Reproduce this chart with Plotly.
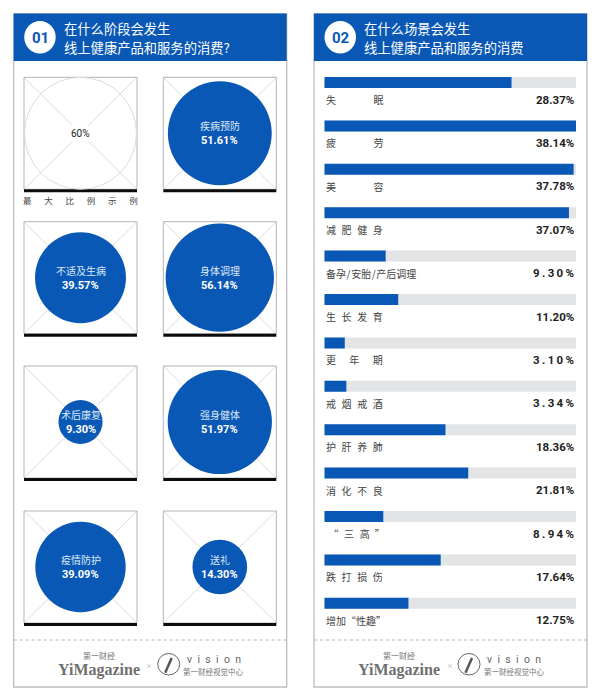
import plotly.graph_objects as go

# left panel: share of spending by stage
stages = ["疾病预防", "不适及生病", "身体调理", "术后康复", "强身健体", "疫情防护", "送礼"]
stage_vals = [51.61, 39.57, 56.14, 9.30, 51.97, 39.09, 14.30]
max_val = 60
# grid slot of every circle: column, row
stage_col = [1, 0, 1, 0, 1, 0, 1]
stage_row = [0, 1, 1, 2, 2, 3, 3]

# right panel: share of spending by scene
scenes = ["失眠", "疲劳", "美容", "减肥健身", "备孕/安胎/产后调理", "生长发育", "更年期",
          "戒烟戒酒", "护肝养肺", "消化不良", "“三高”", "跌打损伤", "增加“性趣”"]
scene_vals = [28.37, 38.14, 37.78, 37.07, 9.30, 11.20, 3.10, 3.34, 18.36, 21.81, 8.94, 17.64, 12.75]

# spaced out the way the designer justified them
GAP = "\u2002\u200a"
WIDE = "\u3000\u3000\u3000\u2002\u2005"
scene_labels = ["失" + WIDE + "眠", "疲" + WIDE + "劳", "美" + WIDE + "容",
                GAP.join("减肥健身"), "备孕\u200a/\u200a安胎\u200a/\u200a产后调理",
                GAP.join("生长发育"), "\u3000\u2004".join("更年期"),
                GAP.join("戒烟戒酒"), GAP.join("护肝养肺"), GAP.join("消化不良"),
                "\u2005“" + GAP + "三" + GAP + "高\u2002”",
                GAP.join("跌打损伤"), "增加“性趣”"]

BLUE = "#0a58b5"
GREY = "#e3e4e6"
BOX_W = 113
BOX_H = 112
FONT = "Noto Sans CJK SC"
col_x = [24, 163.3]
row_y = [77.3, 221.7, 366, 511]

fig = go.Figure()
shapes = []
notes = []


def rect(x0, y0, x1, y1, fill=None, line=None, width=1):
    shapes.append(dict(type="rect", x0=x0, y0=y0, x1=x1, y1=y1, xref="x", yref="y", layer="below",
                       fillcolor=fill or "rgba(0,0,0,0)",
                       line=dict(color=line or "rgba(0,0,0,0)", width=width if line else 0)))


def seg(x0, y0, x1, y1, color, width=1, dash=None):
    shapes.append(dict(type="line", x0=x0, y0=y0, x1=x1, y1=y1, xref="x", yref="y", layer="below",
                       line=dict(color=color, width=width, dash=dash)))


def note(x, y, text, size, color="#333333", anchor="center", family=FONT):
    notes.append(dict(x=x, y=y, xref="x", yref="y", text=text, showarrow=False, xanchor=anchor,
                      yanchor="middle", font=dict(size=size, color=color, family=family)))


# panel frames, headers, footers
for px0, title1, title2, num in [(13.7, "在什么阶段会发生", "线上健康产品和服务的消费?", "01"),
                                 (314, "在什么场景会发生", "线上健康产品和服务的消费", "02")]:
    px1 = px0 + 273
    rect(px0, 14, px1, 687, fill="white", line="#bdbec2", width=1.3)
    rect(px0, 13.5, px1, 61, fill=BLUE)
    shapes.append(dict(type="circle", x0=px0 + 10.5, y0=21, x1=px0 + 42, y1=53.5, xref="x", yref="y",
                       fillcolor="white", line=dict(width=0)))
    note(px0 + 26.5, 37.5, "<b>" + num + "</b>", 15, BLUE, family="Roboto")
    note(px0 + 48, 28.5, title1, 13.3, "white", "left")
    note(px0 + 48, 47, title2, 13.3, "white", "left")
    seg(px0, 640, px1, 640, "#b4b5b8", 1, "dot")
    note(px0 + 85, 655, "第一财经", 8, "#777777")
    note(px0 + 85, 670, "<b>YiMagazine</b>", 16, "#6f6f6f", family="Liberation Serif")
    note(px0 + 135.5, 665, "×", 6, "#999999")
    shapes.append(dict(type="circle", x0=px0 + 144, y0=653.5, x1=px0 + 166, y1=675, xref="x", yref="y",
                       line=dict(color="#666666", width=1)))
    seg(px0 + 158, 658, px0 + 151.5, 672.7, "#555555", 2.5)
    note(px0 + 200, 659.5, "v\u2002i\u2002s\u2002i\u2002o\u2002n", 10.5, "#666666", family="Roboto")
    note(px0 + 200, 671.5, "第一财经视觉中心", 7.5, "#777777")

# crossed boxes of the left panel
for c in col_x:
    for r in row_y:
        seg(c, r, c + BOX_W, r + BOX_H, "#dcdcde")
        seg(c, r + BOX_H, c + BOX_W, r, "#dcdcde")
        rect(c, r, c + BOX_W, r + BOX_H, line="#b4b5b8", width=1)
        rect(c, r + BOX_H, c + BOX_W, r + BOX_H + 3, fill="#0c0c0c")

sizeref = 2 * max_val / BOX_H ** 2

# reference circle for the maximum
fig.add_trace(go.Scatter(
    x=[col_x[0] + BOX_W / 2], y=[row_y[0] + BOX_H / 2], mode="markers",
    marker=dict(size=[max_val], sizemode="area", sizeref=sizeref, opacity=1, color="rgba(0,0,0,0)",
                line=dict(color="#dcdcde", width=1)),
    hoverinfo="skip", xaxis="x", yaxis="y"))
rect(col_x[0] + 44, row_y[0] + 48, col_x[0] + 69, row_y[0] + 64, fill="white")
note(col_x[0] + BOX_W / 2, row_y[0] + BOX_H / 2, "60%", 10, "#222222", family="Roboto")
note(col_x[0] + BOX_W / 2, 199.5, "\u3000\u2002".join("最大比例示例"), 8.5, "#444444")

# stage circles: area is the value
cx = [col_x[c] + BOX_W / 2 for c in stage_col]
cy = [row_y[r] + BOX_H / 2 for r in stage_row]
fig.add_trace(go.Scatter(
    x=cx, y=cy, mode="markers",
    marker=dict(size=stage_vals, sizemode="area", sizeref=sizeref, opacity=1, color=BLUE, line=dict(width=0)),
    hovertext=stages, xaxis="x", yaxis="y"))
for s, v, x, y in zip(stages, stage_vals, cx, cy):
    note(x, y - 7.5, s, 10, "#dfe8f5")
    note(x, y + 7.5, "<b>%.2f%%</b>" % v, 11, "white", family="Roboto")

# right panel bars, drawn on their own axes
full = [max(scene_vals)] * len(scenes)
fig.add_trace(go.Bar(x=full, y=scenes, orientation="h", marker=dict(color=GREY, line=dict(width=0)),
                     hoverinfo="skip", xaxis="x2", yaxis="y2"))
fig.add_trace(go.Bar(x=scene_vals, y=scenes, orientation="h", marker=dict(color=BLUE, line=dict(width=0)),
                     xaxis="x2", yaxis="y2"))
for s, lab, v in zip(scenes, scene_labels, scene_vals):
    notes.append(dict(x=0, y=s, xref="x2", yref="y2", text=lab, showarrow=False, xanchor="left",
                      yanchor="middle", yshift=-17, font=dict(size=10, color="#444444", family=FONT)))
    txt = "%.2f%%" % v
    if v < 10:
        txt = "\u200a\u200a".join(txt)
    notes.append(dict(x=max(scene_vals), y=s, xref="x2", yref="y2", text="<b>" + txt + "</b>", showarrow=False,
                      xanchor="right", yanchor="middle", yshift=-17,
                      font=dict(size=11.5, color="#222222", family="Roboto")))

# the right panel's band is 43.4 px per category
top_px = 82.5 - 21.7
bot_px = top_px + 43.4 * len(scenes)
fig.update_layout(
    width=600, height=700, margin=dict(l=0, r=0, t=0, b=0), showlegend=False,
    autosize=False,
    paper_bgcolor="white", plot_bgcolor="rgba(0,0,0,0)",
    barmode="overlay", bargap=1 - 11 / 43.4,
    xaxis=dict(range=[0, 600], domain=[0, 1], visible=False, fixedrange=True),
    yaxis=dict(range=[700, 0], domain=[0, 1], visible=False, fixedrange=True),
    xaxis2=dict(range=[0, max(scene_vals)], domain=[324.3 / 600, 576 / 600], anchor="y2", visible=False, fixedrange=True),
    yaxis2=dict(categoryorder="array", categoryarray=scenes, range=[len(scenes) - 0.5, -0.5],
                domain=[1 - bot_px / 700, 1 - top_px / 700], anchor="x2", visible=False, fixedrange=True),
    shapes=shapes, annotations=notes,
)

fig.write_html("out.html", config={"displayModeBar": False},
               post_script="document.body.style.margin = '0';")
